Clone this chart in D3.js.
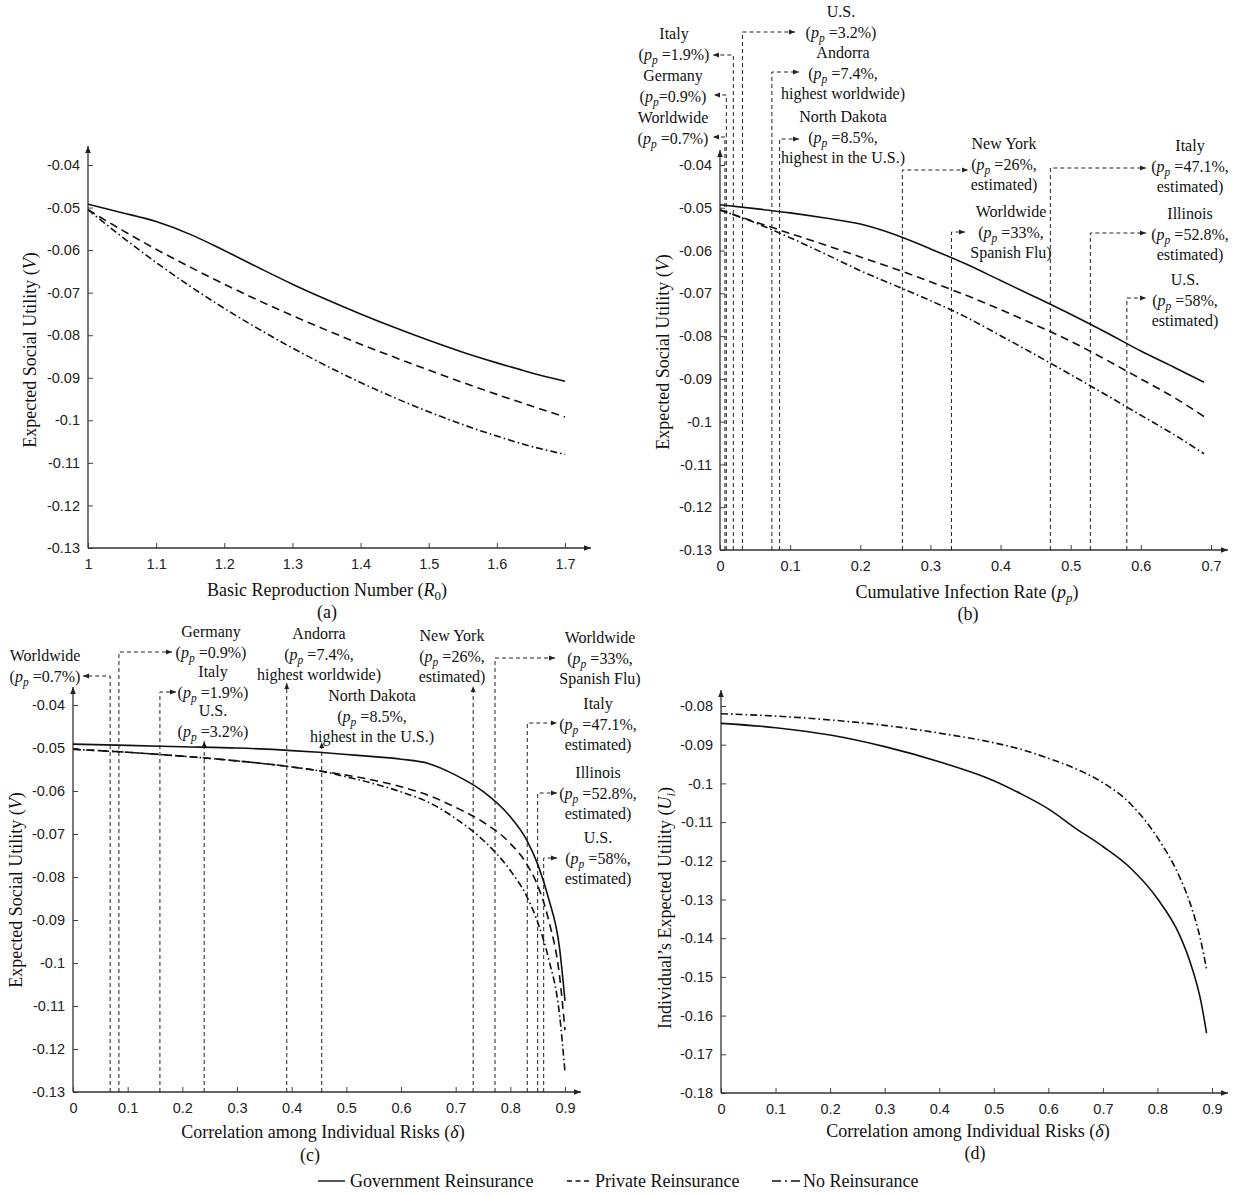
<!DOCTYPE html>
<html><head><meta charset="utf-8">
<script src="https://cdn.jsdelivr.net/npm/d3@7/dist/d3.min.js"></script>
<style>body{margin:0;background:#fff}</style>
</head><body>
<svg id="chart" width="1233" height="1195"></svg>
<script>
// ---------------- DATA ----------------
const r0Grid = [1.0,1.05,1.1,1.15,1.2,1.25,1.3,1.35,1.4,1.45,1.5,1.55,1.6,1.65,1.7];
const govA  = [-0.0492,-0.0512,-0.0533,-0.0563,-0.0601,-0.0641,-0.0680,-0.0716,-0.0750,-0.0782,-0.0812,-0.0840,-0.0865,-0.0888,-0.0908];
const privA = [-0.0505,-0.0553,-0.0598,-0.0640,-0.0680,-0.0718,-0.0754,-0.0788,-0.0821,-0.0852,-0.0882,-0.0911,-0.0939,-0.0966,-0.0992];
const noA   = [-0.0505,-0.0569,-0.0629,-0.0685,-0.0737,-0.0785,-0.0830,-0.0872,-0.0911,-0.0947,-0.0980,-0.1010,-0.1037,-0.1061,-0.1080];

const ppGrid = [0,0.05,0.1,0.15,0.2,0.25,0.3,0.35,0.4,0.45,0.5,0.55,0.6,0.65,0.69];
const govB  = [-0.0493,-0.0502,-0.0512,-0.0524,-0.0538,-0.0563,-0.0596,-0.0631,-0.0670,-0.0709,-0.0749,-0.0791,-0.0835,-0.0875,-0.0908];
const privB = [-0.0505,-0.0533,-0.0560,-0.0587,-0.0615,-0.0643,-0.0673,-0.0704,-0.0738,-0.0774,-0.0812,-0.0855,-0.0900,-0.0946,-0.0988];
const noB   = [-0.0505,-0.0535,-0.0570,-0.0608,-0.0647,-0.0682,-0.0717,-0.0755,-0.0799,-0.0844,-0.0890,-0.0937,-0.0985,-0.1033,-0.1075];

const deltaGridC = [0,0.1,0.2,0.3,0.4,0.45,0.5,0.55,0.6,0.65,0.7,0.75,0.8,0.83,0.85,0.87,0.89,0.9];
const govC  = [-0.0491,-0.0494,-0.0497,-0.0500,-0.0506,-0.0510,-0.0515,-0.0520,-0.0526,-0.0536,-0.0563,-0.0601,-0.0660,-0.0714,-0.0770,-0.0850,-0.0965,-0.1088];
const privC = [-0.0503,-0.0510,-0.0519,-0.0530,-0.0544,-0.0553,-0.0563,-0.0575,-0.0590,-0.0610,-0.0638,-0.0672,-0.0722,-0.0770,-0.0820,-0.0900,-0.1030,-0.1156];
const noC   = [-0.0503,-0.0510,-0.0519,-0.0530,-0.0544,-0.0553,-0.0567,-0.0583,-0.0602,-0.0626,-0.0664,-0.0714,-0.0785,-0.0845,-0.0905,-0.0990,-0.1120,-0.1254];

const deltaGridD = [0,0.1,0.2,0.3,0.4,0.5,0.55,0.6,0.65,0.7,0.75,0.8,0.84,0.86,0.88,0.89];
const govD = [-0.0845,-0.0856,-0.0875,-0.0905,-0.0944,-0.0993,-0.1027,-0.1066,-0.1116,-0.1163,-0.1218,-0.1298,-0.1390,-0.1462,-0.1565,-0.1645];
const noD  = [-0.0820,-0.0826,-0.0836,-0.0850,-0.0870,-0.0895,-0.0912,-0.0935,-0.0962,-0.0998,-0.1052,-0.1140,-0.1240,-0.1310,-0.1410,-0.1480];

// annotated cumulative infection rates and corresponding correlations
const annotPp    = [0.007,0.009,0.019,0.032,0.074,0.085,0.26,0.33,0.471,0.528,0.58];
const annotDelta = [0.068,0.084,0.159,0.240,0.391,0.455,0.732,0.772,0.831,0.850,0.861];
const labelsB = [
 ["Worldwide","(p_p =0.7%)"],["Germany","(p_p=0.9%)"],["Italy","(p_p =1.9%)"],["U.S.","(p_p =3.2%)"],
 ["Andorra","(p_p =7.4%,","highest worldwide)"],["North Dakota","(p_p =8.5%,","highest in the U.S.)"],
 ["New York","(p_p =26%,","estimated)"],["Worldwide","(p_p =33%,","Spanish Flu)"],
 ["Italy","(p_p =47.1%,","estimated)"],["Illinois","(p_p =52.8%,","estimated)"],["U.S.","(p_p =58%,","estimated)"]];
const labelsC = [
 ["Worldwide","(p_p =0.7%)"],["Germany","(p_p =0.9%)"],["Italy","(p_p =1.9%)"],["U.S.","(p_p =3.2%)"],
 ["Andorra","(p_p =7.4%,","highest worldwide)"],["North Dakota","(p_p =8.5%,","highest in the U.S.)"],
 ["New York","(p_p =26%,","estimated)"],["Worldwide","(p_p =33%,","Spanish Flu)"],
 ["Italy","(p_p =47.1%,","estimated)"],["Illinois","(p_p =52.8%,","estimated)"],["U.S.","(p_p =58%,","estimated)"]];

const yTicksV = [-0.13,-0.12,-0.11,-0.1,-0.09,-0.08,-0.07,-0.06,-0.05,-0.04];
const yTicksU = [-0.18,-0.17,-0.16,-0.15,-0.14,-0.13,-0.12,-0.11,-0.1,-0.09,-0.08];
const xTicksA = [1,1.1,1.2,1.3,1.4,1.5,1.6,1.7];
const xTicksB = [0,0.1,0.2,0.3,0.4,0.5,0.6,0.7];
const xTicksCD = [0,0.1,0.2,0.3,0.4,0.5,0.6,0.7,0.8,0.9];
const legendNames = ["Government Reinsurance","Private Reinsurance","No Reinsurance"];

// ---------------- LAYOUT / STYLE ----------------
const SERIF = "'Liberation Serif','Times New Roman',serif";
const SANS = "'Liberation Sans',Arial,sans-serif";
const styles = {
  gov: {dash: null},
  priv: {dash: "8,5"},
  no: {dash: "7,3,1.6,3"}
};
const svg = d3.select("#chart");
const defs = svg.append("defs");
defs.append("marker").attr("id","axArrow").attr("viewBox","0 0 10 10").attr("refX",10).attr("refY",5)
  .attr("markerWidth",8).attr("markerHeight",7).attr("markerUnits","userSpaceOnUse").attr("orient","auto")
  .append("path").attr("d","M0,1 L10,5 L0,9 Z").attr("fill","#222");
defs.append("marker").attr("id","annArrow").attr("viewBox","0 0 10 10").attr("refX",10).attr("refY",5)
  .attr("markerWidth",6).attr("markerHeight",6).attr("markerUnits","userSpaceOnUse").attr("orient","auto")
  .append("path").attr("d","M0,1 L10,5 L0,9 Z").attr("fill","#222");

const fmt = d => String(+d.toFixed(2));

function rich(t, segs) {
  segs.forEach(([txt, st]) => {
    const sp = t.append("tspan").text(txt);
    if (st === "i") sp.attr("font-style","italic");
    if (st === "si") sp.attr("font-style","italic").attr("font-size","0.72em").attr("dy",4);
    if (st === "s") sp.attr("font-size","0.72em").attr("dy",4);
    if (st === "r") sp.attr("dy",-4);
  });
}
function ppSegs(str) {
  const parts = str.split("p_p"); const segs = [];
  parts.forEach((p,i) => {
    if (i>0) { segs.push(["p","i"]); segs.push(["p","si"]); segs.push([p,"r"]); }
    else if (p) segs.push([p,""]);
  });
  return segs;
}

function panel(cfg) {
  const g = svg.append("g");
  const x = d3.scaleLinear().domain(cfg.xd).range(cfg.xr);
  const y = d3.scaleLinear().domain(cfg.yd).range(cfg.yr);
  const ax = g.append("g").attr("transform",`translate(0,${cfg.yr[0]})`)
    .call(d3.axisBottom(x).tickValues(cfg.xt).tickFormat(fmt).tickSize(-5).tickPadding(11));
  ax.select(".domain").remove();
  const ay = g.append("g").attr("transform",`translate(${cfg.xr[0]},0)`)
    .call(d3.axisLeft(y).tickValues(cfg.yt).tickFormat(fmt).tickSize(-5).tickPadding(8));
  ay.select(".domain").remove();
  g.selectAll(".tick line").attr("stroke","#444");
  g.selectAll(".tick text").attr("font-family",SANS).attr("font-size",14.5).attr("fill","#222");
  g.append("line").attr("x1",cfg.xr[0]).attr("x2",cfg.xEnd).attr("y1",cfg.yr[0]).attr("y2",cfg.yr[0])
    .attr("stroke","#333").attr("stroke-width",1.3).attr("marker-end","url(#axArrow)");
  g.append("line").attr("x1",cfg.xr[0]).attr("x2",cfg.xr[0]).attr("y1",cfg.yr[0]).attr("y2",cfg.yTop)
    .attr("stroke","#333").attr("stroke-width",1.3).attr("marker-end","url(#axArrow)");

  // annotations
  if (cfg.ann) {
    cfg.ann.pos.forEach((v,i) => {
      const L = cfg.ann.layout[i];
      const xv = x(v);
      let d = `M${xv},${cfg.yr[0]} V${L.top}`;
      if (L.kind !== "up") d += ` H${L.tip}`;
      g.append("path").attr("d",d).attr("fill","none").attr("stroke","#222").attr("stroke-width",1)
        .attr("stroke-dasharray","4,3").attr("marker-end","url(#annArrow)");
      cfg.ann.labels[i].forEach((line,j) => {
        const t = g.append("text").attr("x",L.cx).attr("y",L.cy0 + j*20.5 + 5)
          .attr("text-anchor","middle").attr("font-family",SERIF).attr("font-size",16).attr("fill","#111");
        rich(t, ppSegs(line));
      });
    });
  }
  // curves
  const line = d3.line().x(d=>x(d[0])).y(d=>y(d[1])).curve(d3.curveMonotoneX);
  cfg.series.forEach(s => {
    g.append("path").datum(cfg.grid.map((v,i)=>[v,s.vals[i]])).attr("d",line)
      .attr("fill","none").attr("stroke","#111").attr("stroke-width",1.6)
      .attr("stroke-dasharray", styles[s.key].dash);
  });
  // titles
  const xt = g.append("text").attr("x",cfg.xTitle[0]).attr("y",cfg.xTitle[1]+6).attr("text-anchor","middle")
    .attr("font-family",SERIF).attr("font-size",18).attr("fill","#111");
  rich(xt, cfg.xTitleSegs);
  g.append("text").attr("x",cfg.tag[0]).attr("y",cfg.tag[1]+6).attr("text-anchor","middle")
    .attr("font-family",SERIF).attr("font-size",18).attr("fill","#111").text(cfg.tagText);
  const yt = g.append("text").attr("transform",`translate(${cfg.yTitle[0]+6},${cfg.yTitle[1]}) rotate(-90)`)
    .attr("text-anchor","middle").attr("font-family",SERIF).attr("font-size",18).attr("fill","#111");
  rich(yt, cfg.yTitleSegs);
}

const vTitle = [["Expected Social Utility (",""],["V","i"],[")",""]];
const dTitle = [["Correlation among Individual Risks (",""],["δ","i"],[")",""]];

panel({xd:[1,1.7], xr:[88,565], yd:[-0.13,-0.04], yr:[548,165], xEnd:591, yTop:146,
  xt:xTicksA, yt:yTicksV, grid:r0Grid,
  series:[{key:"gov",vals:govA},{key:"priv",vals:privA},{key:"no",vals:noA}],
  xTitle:[327,590], xTitleSegs:[["Basic Reproduction Number (",""],["R","i"],["0","s"],[")","r"]],
  tag:[327,612], tagText:"(a)", yTitle:[30,350], yTitleSegs:vTitle});

panel({xd:[0,0.7], xr:[720,1211], yd:[-0.13,-0.04], yr:[550,165], xEnd:1228, yTop:150,
  xt:xTicksB, yt:yTicksV, grid:ppGrid,
  series:[{key:"gov",vals:govB},{key:"priv",vals:privB},{key:"no",vals:noB}],
  xTitle:[967,592], xTitleSegs:[["Cumulative Infection Rate (",""],["p","i"],["p","si"],[")","r"]],
  tag:[968,614], tagText:"(b)", yTitle:[663,352], yTitleSegs:vTitle,
  ann:{pos:annotPp, labels:labelsB, layout:[
    {kind:"left",top:137,tip:713,cx:673,cy0:118},
    {kind:"left",top:95,tip:714,cx:673,cy0:76},
    {kind:"left",top:55,tip:713,cx:674,cy0:34},
    {kind:"right",top:32,tip:795,cx:841,cy0:12},
    {kind:"right",top:72,tip:799,cx:843,cy0:53},
    {kind:"right",top:139,tip:799,cx:843,cy0:117},
    {kind:"right",top:170,tip:968,cx:1004,cy0:144},
    {kind:"right",top:232,tip:965,cx:1011,cy0:212},
    {kind:"right",top:168,tip:1146,cx:1190,cy0:146},
    {kind:"right",top:233,tip:1146,cx:1190,cy0:214},
    {kind:"right",top:298,tip:1146,cx:1185,cy0:280}]}});

panel({xd:[0,0.9], xr:[73,565], yd:[-0.13,-0.04], yr:[1092,705], xEnd:581, yTop:687,
  xt:xTicksCD, yt:yTicksV, grid:deltaGridC,
  series:[{key:"gov",vals:govC},{key:"priv",vals:privC},{key:"no",vals:noC}],
  xTitle:[323,1132], xTitleSegs:dTitle,
  tag:[310,1155], tagText:"(c)", yTitle:[16,890], yTitleSegs:vTitle,
  ann:{pos:annotDelta, labels:labelsC, layout:[
    {kind:"left",top:676,tip:83,cx:45,cy0:656},
    {kind:"right",top:652,tip:172,cx:211,cy0:632},
    {kind:"right",top:692,tip:176,cx:213,cy0:672},
    {kind:"up",top:741,cx:213,cy0:711},
    {kind:"up",top:683,cx:319,cy0:634},
    {kind:"up",top:742,cx:372,cy0:696},
    {kind:"up",top:686,cx:452,cy0:636},
    {kind:"right",top:658,tip:555,cx:600,cy0:638},
    {kind:"right",top:723,tip:557,cx:598,cy0:704},
    {kind:"right",top:793,tip:557,cx:598,cy0:773},
    {kind:"right",top:858,tip:557,cx:598,cy0:838}]}});

panel({xd:[0,0.9], xr:[721,1212], yd:[-0.18,-0.08], yr:[1093,706], xEnd:1228, yTop:690,
  xt:xTicksCD, yt:yTicksU, grid:deltaGridD,
  series:[{key:"gov",vals:govD},{key:"no",vals:noD}],
  xTitle:[968,1131], xTitleSegs:dTitle,
  tag:[975,1153], tagText:"(d)", yTitle:[665,908],
  yTitleSegs:[["Individual’s Expected Utility (",""],["U","i"],["i","si"],[")","r"]]});

// legend
const legItems = [{key:"gov",x1:318,x2:345,tx:350},{key:"priv",x1:567,x2:592,tx:595},{key:"no",x1:772,x2:800,tx:803}];
const lg = svg.append("g");
legItems.forEach((it,i) => {
  lg.append("line").attr("x1",it.x1).attr("x2",it.x2).attr("y1",1181).attr("y2",1181)
    .attr("stroke","#111").attr("stroke-width",1.4)
    .attr("stroke-dasharray", it.key==="priv" ? "5,3.5" : it.key==="no" ? "9,4,2,4" : null);
  lg.append("text").attr("x",it.tx).attr("y",1187).attr("font-family",SERIF).attr("font-size",18)
    .attr("fill","#111").text(legendNames[i]);
});
</script>
</body></html>
